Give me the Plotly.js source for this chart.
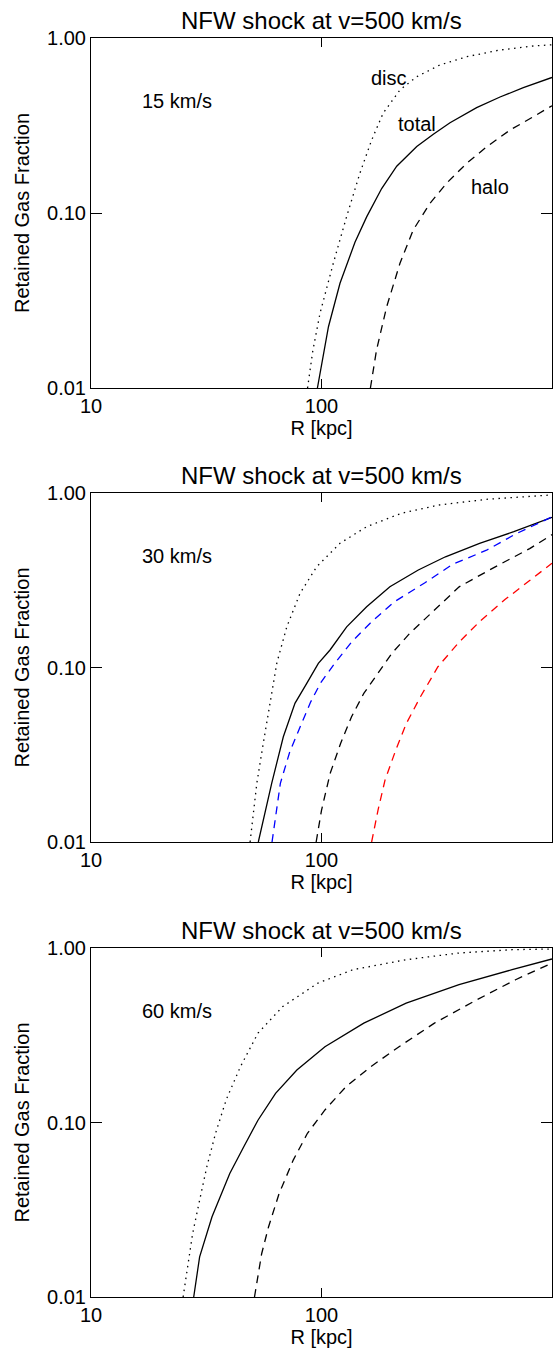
<!DOCTYPE html>
<html>
<head>
<meta charset="utf-8">
<script src="https://cdn.plot.ly/plotly-3.0.1.min.js"></script>
<style>html,body{margin:0;padding:0;background:#fff;}#plot{width:553px;height:1349px;}</style>
</head>
<body>
<div id="plot"></div>
<script>
// ---------- data (R in kpc, retained gas fraction) ----------
// Panel 1: 15 km/s
const R_disc_15  = [87, 91.6, 98.5, 112.5, 128.5, 146.8, 165, 185, 219, 259, 326, 427, 595, 829, 1000];
const F_disc_15  = [0.01, 0.0162, 0.0267, 0.0516, 0.0953, 0.169, 0.261, 0.371, 0.505, 0.601, 0.701, 0.782, 0.854, 0.90, 0.915];
const R_total_15 = [96, 107.2, 120.3, 139.7, 157, 182.4, 212, 259, 305.6, 361, 471, 595, 751, 1000];
const F_total_15 = [0.01, 0.0224, 0.0397, 0.068, 0.095, 0.138, 0.185, 0.24, 0.282, 0.328, 0.40, 0.46, 0.52, 0.595];
const R_halo_15  = [163, 173.3, 191.7, 219, 250, 295.6, 349, 426, 521, 658, 830, 1000];
const F_halo_15  = [0.01, 0.0165, 0.0291, 0.0516, 0.08, 0.1136, 0.148, 0.192, 0.239, 0.298, 0.355, 0.41];

// Panel 2: 30 km/s
const R_disc_30  = [49, 52.4, 55.9, 59.8, 64, 70.7, 80.7, 95.3, 120.3, 157, 222, 322, 520, 1000];
const F_disc_30  = [0.01, 0.0217, 0.0368, 0.0623, 0.106, 0.171, 0.266, 0.378, 0.515, 0.641, 0.765, 0.853, 0.92, 0.975];
const R_total_30 = [53.2, 60.8, 68.3, 76.7, 86.3, 96.9, 108.9, 128.6, 157, 198, 263, 345, 485, 683, 1000];
const F_total_30 = [0.01, 0.0217, 0.0401, 0.0623, 0.0811, 0.1057, 0.126, 0.171, 0.223, 0.29, 0.362, 0.431, 0.515, 0.60, 0.725];
const R_blue_30  = [61, 66.3, 72.9, 80.8, 89.5, 99.3, 113.7, 135, 163, 207, 280, 370, 520, 700, 1000];
const F_blue_30  = [0.01, 0.0217, 0.033, 0.046, 0.063, 0.082, 0.105, 0.14, 0.18, 0.238, 0.305, 0.39, 0.47, 0.585, 0.73];
const R_halo_30  = [94.8, 100, 109, 121, 135, 152.6, 175.8, 202.5, 241.5, 298, 395.6, 562, 800, 1000];
const F_halo_30  = [0.01, 0.0152, 0.0247, 0.0367, 0.0522, 0.0711, 0.0927, 0.121, 0.157, 0.205, 0.29, 0.375, 0.48, 0.577];
const R_red_30   = [165, 175.8, 188.6, 209.9, 233.4, 268.7, 320, 395.6, 489, 625, 800, 1000];
const F_red_30   = [0.01, 0.0152, 0.0226, 0.0336, 0.0478, 0.068, 0.101, 0.14, 0.185, 0.245, 0.315, 0.396];

// Panel 3: 60 km/s
const R_disc_60  = [25.1, 26.2, 27.6, 29.6, 31.8, 34.7, 38.6, 44.5, 53, 67.9, 96.6, 137, 233, 395, 671, 1000];
const F_disc_60  = [0.01, 0.0149, 0.0231, 0.0359, 0.0557, 0.0867, 0.135, 0.209, 0.325, 0.462, 0.63, 0.751, 0.857, 0.936, 0.978, 0.987];
const R_total_60 = [27.9, 29.6, 33.5, 40, 46, 53, 63.2, 78.2, 103.5, 152.6, 233, 395, 671, 1000];
const F_total_60 = [0.01, 0.017, 0.0288, 0.051, 0.0726, 0.103, 0.147, 0.2, 0.272, 0.371, 0.483, 0.616, 0.751, 0.865];
const R_halo_60  = [51.2, 55, 58.9, 65.5, 75.4, 86.9, 103.5, 128, 163.7, 217, 309, 472, 695, 1000];
const F_halo_60  = [0.01, 0.0177, 0.0252, 0.0392, 0.0609, 0.0867, 0.118, 0.161, 0.209, 0.272, 0.371, 0.505, 0.658, 0.82];

// ---------- ticks & text ----------
const xTickVals  = [10, 100, 1000];
const xTickText  = ['10', '100', ''];
const xMinorVals = [20, 30, 40, 50, 60, 70, 80, 90, 200, 300, 400, 500, 600, 700, 800, 900];
const yTickVals  = [0.01, 0.1, 1];
const yTickText  = ['0.01', '0.10', '1.00'];
const yMinorVals = [0.02, 0.03, 0.04, 0.05, 0.06, 0.07, 0.08, 0.09, 0.2, 0.3, 0.4, 0.5, 0.6, 0.7, 0.8, 0.9];
const panelTitle = 'NFW shock at v=500 km/s';
const speedLabels = ['15 km/s', '30 km/s', '60 km/s'];
const curveLabels = ['disc', 'total', 'halo'];

// ---------- styles ----------
const FONT = 'Liberation Sans, Arial, Helvetica, sans-serif';
const DOT = '1.5px,4.5px';
const DASH = '8px,6px';
const LW = 1.3;
const MINOR_X = 5, MINOR_Y = 6;

function tr(x, y, ax, color, dash) {
  return {x: x, y: y, xaxis: 'x' + ax, yaxis: 'y' + ax, type: 'scatter', mode: 'lines',
    line: {color: color, width: LW, dash: dash}, hoverinfo: 'skip', showlegend: false};
}

const data = [
  tr(R_disc_15, F_disc_15, '', '#000', DOT),
  tr(R_total_15, F_total_15, '', '#000', 'solid'),
  tr(R_halo_15, F_halo_15, '', '#000', DASH),
  tr(R_disc_30, F_disc_30, '2', '#000', DOT),
  tr(R_total_30, F_total_30, '2', '#000', 'solid'),
  tr(R_blue_30, F_blue_30, '2', '#0000ff', DASH),
  tr(R_halo_30, F_halo_30, '2', '#000', DASH),
  tr(R_red_30, F_red_30, '2', '#ff0000', DASH),
  tr(R_disc_60, F_disc_60, '3', '#000', DOT),
  tr(R_total_60, F_total_60, '3', '#000', 'solid'),
  tr(R_halo_60, F_halo_60, '3', '#000', DASH)
];

// layout geometry
const W = 553, H = 1349, ML = 91, MR = 1, MT = 38, MB = 52;
const plotH = H - MT - MB, plotW = W - ML - MR;
const panels = [[38, 388], [493, 842], [948, 1297]]; // pixel top/bottom
function dom(p) { return [(H - MB - p[1]) / plotH, (H - MB - p[0]) / plotH]; }

const tickFont = {family: FONT, size: 20, color: '#000'};

function xax(anchor) {
  return {type: 'log', range: [1, 3], anchor: anchor, domain: [0, 1],
    tickmode: 'array', tickvals: xTickVals, ticktext: xTickText,
    ticks: 'inside', ticklen: 9, tickwidth: 1, tickcolor: '#000',
    showline: true, linecolor: '#000', linewidth: 1, mirror: 'ticks',
    showgrid: false, zeroline: false, tickfont: tickFont,
    title: {text: 'R [kpc]', font: tickFont, standoff: 4}, fixedrange: true};
}
function yax(anchor, d) {
  return {type: 'log', range: [-2, 0], anchor: anchor, domain: d,
    tickmode: 'array', tickvals: yTickVals, ticktext: yTickText,
    ticks: 'inside', ticklen: 11, tickwidth: 1, tickcolor: '#000',
    showline: true, linecolor: '#000', linewidth: 1, mirror: 'ticks',
    showgrid: false, zeroline: false, tickfont: tickFont,
    title: {text: 'Retained Gas Fraction', font: tickFont, standoff: 12}, fixedrange: true};
}

// minor tick marks (axis decoration), positioned with axis coordinates + paper offsets
const shapes = [];
const tickLine = {color: '#000', width: 1};
['', '2', '3'].forEach(function (s, i) {
  const d = dom(panels[i]);
  const dy = MINOR_X / plotH, dx = MINOR_Y / plotW;
  xMinorVals.forEach(function (v) {
    const lx = Math.log10(v);
    shapes.push({type: 'line', layer: 'above', xref: 'x' + s, yref: 'paper', x0: lx, x1: lx, y0: d[0], y1: d[0] + dy, line: tickLine});
    shapes.push({type: 'line', layer: 'above', xref: 'x' + s, yref: 'paper', x0: lx, x1: lx, y0: d[1], y1: d[1] - dy, line: tickLine});
  });
  yMinorVals.forEach(function (v) {
    const ly = Math.log10(v);
    shapes.push({type: 'line', layer: 'above', xref: 'paper', yref: 'y' + s, x0: 0, x1: dx, y0: ly, y1: ly, line: tickLine});
    shapes.push({type: 'line', layer: 'above', xref: 'paper', yref: 'y' + s, x0: 1, x1: 1 - dx, y0: ly, y1: ly, line: tickLine});
  });
});

const annotations = [];
panels.forEach(function (p, i) {
  const d = dom(p);
  annotations.push({xref: 'paper', yref: 'paper', x: 0.5, y: d[1], yanchor: 'bottom', xanchor: 'center',
    yshift: 2, text: panelTitle, showarrow: false, font: {family: FONT, size: 24, color: '#000'}});
  const sfx = i === 0 ? '' : String(i + 1);
  annotations.push({xref: 'x' + sfx, yref: 'y' + sfx, x: Math.log10(23.6), y: Math.log10(0.435),
    text: speedLabels[i], showarrow: false, font: tickFont});
});
const curveLabelPos = [[2.294, -0.23], [2.416, -0.493], [2.731, -0.85]];
curveLabels.forEach(function (t, i) {
  annotations.push({xref: 'x', yref: 'y', x: curveLabelPos[i][0], y: curveLabelPos[i][1], text: t,
    showarrow: false, font: tickFont});
});

const layout = {
  width: W, height: H,
  margin: {l: ML, r: MR, t: MT, b: MB, pad: 0},
  paper_bgcolor: '#fff', plot_bgcolor: '#fff',
  showlegend: false,
  xaxis: xax('y'), yaxis: yax('x', dom(panels[0])),
  xaxis2: xax('y2'), yaxis2: yax('x2', dom(panels[1])),
  xaxis3: xax('y3'), yaxis3: yax('x3', dom(panels[2])),
  shapes: shapes,
  annotations: annotations,
  font: {family: FONT, color: '#000'}
};

Plotly.newPlot('plot', data, layout, {staticPlot: true, displayModeBar: false});
</script>
</body>
</html>
